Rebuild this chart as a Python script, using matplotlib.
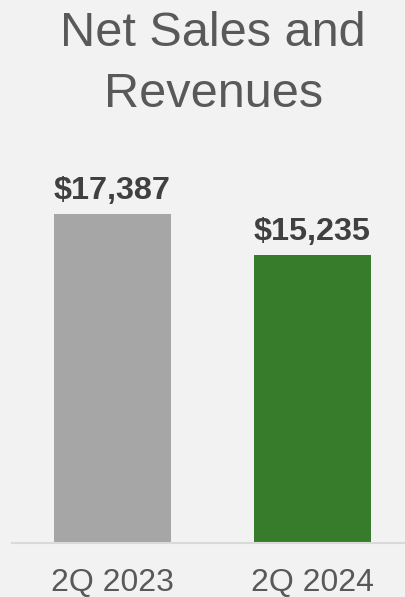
import matplotlib
matplotlib.use("Agg")
import matplotlib.pyplot as plt

categories = ["2Q 2023", "2Q 2024"]
values = [17387, 15235]
value_labels = ["$17,387", "$15,235"]
bar_colors = ["#a6a6a6", "#367c2b"]

W, H = 406, 597
fig = plt.figure(figsize=(W / 100, H / 100), dpi=100)
fig.patch.set_facecolor("#f2f2f2")
plt.rcParams["font.family"] = ["Liberation Sans", "DejaVu Sans"]

# axes: baseline at y=543 px, spanning x 12..406
ax_left = 12 / W
ax_bottom = (H - 543) / H
ax_top_px = 100
ax = fig.add_axes([ax_left, ax_bottom, 1 - ax_left, (543 - ax_top_px) / H])
ax.set_facecolor("#f2f2f2")

px_per_unit = 329 / 17387
ax.set_ylim(0, (543 - ax_top_px) / px_per_unit)
ax.set_xlim(-0.5025, 1.4675)

x = list(range(len(categories)))
ax.bar(x, values, width=0.585, color=bar_colors, zorder=2)

for xi, v, lab in zip(x, values, value_labels):
    ax.annotate(lab, (xi, v), xytext=(0, 10.5), textcoords="offset points",
                ha="center", va="baseline", fontsize=23.3, fontweight="bold",
                color="#404040")

for s in ["top", "right", "left"]:
    ax.spines[s].set_visible(False)
ax.spines["bottom"].set_color("#d9d9d9")
ax.spines["bottom"].set_linewidth(1.5)
ax.set_yticks([])
ax.set_xticks(x)
ax.set_xticklabels(categories, fontsize=23, color="#595959")
ax.tick_params(axis="x", length=0, pad=18)

fig.text(213 / W, 1 - 46 / H, "Net Sales and", ha="center", va="baseline",
         fontsize=35, color="#595959")
fig.text(214 / W, 1 - 107 / H, "Revenues", ha="center", va="baseline",
         fontsize=35, color="#595959")

fig.savefig("out.png", dpi=100, facecolor=fig.get_facecolor())
